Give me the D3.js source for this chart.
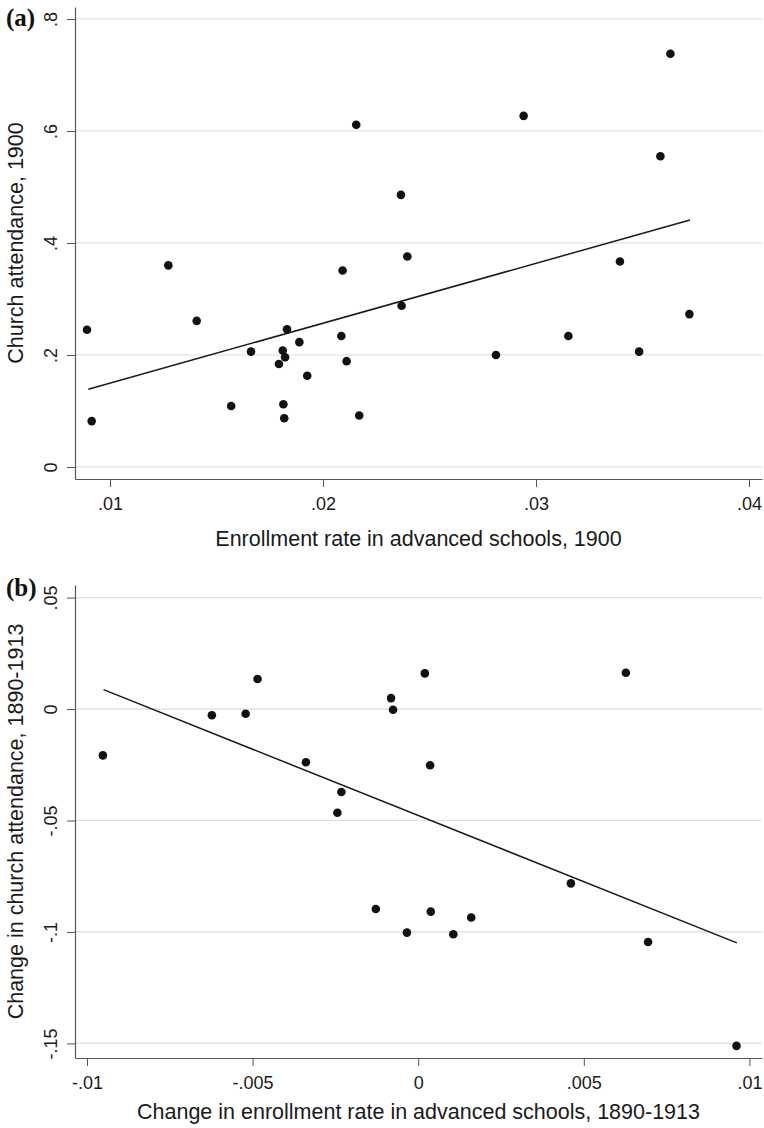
<!DOCTYPE html>
<html>
<head>
<meta charset="utf-8">
<script src="https://cdn.jsdelivr.net/npm/d3@7"></script>
<style>
  body { margin: 0; background: #fff; }
  svg { display: block; font-family: 'Liberation Sans', Arial, sans-serif; }
  .tick text { font-size: 18px; fill: #1a1a1a; }
  .axis path, .axis line { stroke: #555; }
</style>
</head>
<body>
<svg id="chart" width="764" height="1128"></svg>
<script>
// panel (a): enrollment in advanced schools vs church attendance, 1900
const enrollA = [0.00892, 0.00914, 0.01274, 0.01407, 0.01569, 0.01662, 0.01811, 0.01822, 0.01793, 0.01814,
  0.01818, 0.01831, 0.01889, 0.01926, 0.02092, 0.02086, 0.02111, 0.02170, 0.02156, 0.02366,
  0.02396, 0.02369, 0.02812, 0.02942, 0.03152, 0.03394, 0.03484, 0.03584, 0.03631, 0.03720];
const attendA = [0.245, 0.082, 0.360, 0.261, 0.109, 0.206, 0.208, 0.196, 0.184, 0.112,
  0.087, 0.246, 0.223, 0.163, 0.351, 0.234, 0.189, 0.092, 0.611, 0.486,
  0.376, 0.288, 0.200, 0.627, 0.234, 0.367, 0.206, 0.555, 0.738, 0.273];
const fitAx = [0.00898, 0.03723];
const fitAy = [0.1388, 0.4411];

// panel (b): changes 1890-1913
const enrollB = [-0.00952, -0.00623, -0.00521, -0.00485, -0.00339, -0.00232, -0.00244, -0.00082, -0.00076, 0.00020,
  0.00036, 0.00627, 0.00461, -0.00128, 0.00038, 0.00160, -0.00034, 0.00106, 0.00694, 0.00961];
const attendB = [-0.0208, -0.0028, -0.0021, 0.0135, -0.0239, -0.0372, -0.0465, 0.0049, -0.0003, 0.0160,
  -0.0252, 0.0163, -0.0782, -0.0897, -0.0909, -0.0935, -0.1003, -0.1010, -0.1045, -0.1511];
const fitBx = [-0.00950, 0.00962];
const fitBy = [0.0087, -0.1049];

const ticksAX = [0.01, 0.02, 0.03, 0.04];
const labelsAX = ['.01', '.02', '.03', '.04'];
const ticksAY = [0, 0.2, 0.4, 0.6, 0.8];
const labelsAY = ['0', '.2', '.4', '.6', '.8'];
const ticksBX = [-0.01, -0.005, 0, 0.005, 0.01];
const labelsBX = ['-.01', '-.005', '0', '.005', '.01'];
const ticksBY = [-0.15, -0.1, -0.05, 0, 0.05];
const labelsBY = ['-.15', '-.1', '-.05', '0', '.05'];

const svg = d3.select('#chart');
const left = 75, right = 762;

function drawPanel(p) {
  const x = d3.scaleLinear().domain(p.xDomain).range([left, right]);
  const y = d3.scaleLinear().domain(p.yDomain).range([p.bottom, p.top]);
  const g = svg.append('g');

  // grid
  g.selectAll('.grid')
    .data(p.yTicks)
    .join('line')
    .attr('x1', left).attr('x2', right)
    .attr('y1', d => y(d)).attr('y2', d => y(d))
    .attr('stroke', '#dedede')
    .attr('stroke-width', 1.2);

  const yAxis = g.append('g')
    .attr('class', 'axis')
    .attr('transform', `translate(${left},0)`)
    .call(d3.axisLeft(y).tickValues(p.yTicks).tickSize(8).tickSizeOuter(0)
      .tickFormat((d, i) => p.yLabels[i]));
  yAxis.selectAll('.tick text')
    .attr('transform', 'rotate(-90)')
    .attr('x', 0).attr('y', -18).attr('dy', 0)
    .attr('text-anchor', 'middle');

  g.append('g')
    .attr('class', 'axis')
    .attr('transform', `translate(0,${p.bottom})`)
    .call(d3.axisBottom(x).tickValues(p.xTicks).tickSize(8).tickSizeOuter(0).tickPadding(10)
      .tickFormat((d, i) => p.xLabels[i]));

  g.selectAll('.axis .domain').attr('stroke', '#555').attr('stroke-width', 1.2);

  // fitted line
  g.append('line')
    .attr('x1', x(p.fitX[0])).attr('y1', y(p.fitY[0]))
    .attr('x2', x(p.fitX[1])).attr('y2', y(p.fitY[1]))
    .attr('stroke', '#1a1a1a')
    .attr('stroke-width', 1.5);

  g.selectAll('circle')
    .data(p.xs.map((v, i) => [v, p.ys[i]]))
    .join('circle')
    .attr('cx', d => x(d[0]))
    .attr('cy', d => y(d[1]))
    .attr('r', 4.3)
    .attr('fill', '#111');

  // titles
  g.append('text')
    .attr('x', (left + right) / 2)
    .attr('y', p.xTitleY)
    .attr('text-anchor', 'middle')
    .attr('font-size', 21.5)
    .attr('fill', '#1a1a1a')
    .text(p.xTitle);

  g.append('text')
    .attr('transform', `translate(23,${(p.top + p.bottom) / 2}) rotate(-90)`)
    .attr('text-anchor', 'middle')
    .attr('font-size', 21.5)
    .attr('fill', '#1a1a1a')
    .text(p.yTitle);

  g.append('text')
    .attr('x', 6)
    .attr('y', p.labelY)
    .attr('font-family', "'Liberation Serif', 'Times New Roman', serif")
    .attr('font-weight', 'bold')
    .attr('font-size', 25)
    .attr('fill', '#111')
    .text(p.label);
}

drawPanel({
  xs: enrollA, ys: attendA, fitX: fitAx, fitY: fitAy,
  xDomain: [0.008357, 0.04061], yDomain: [-0.0214, 0.8214],
  top: 7, bottom: 479,
  xTicks: ticksAX, xLabels: labelsAX, yTicks: ticksAY, yLabels: labelsAY,
  xTitle: 'Enrollment rate in advanced schools, 1900',
  yTitle: 'Church attendance, 1900',
  xTitleY: 546, label: '(a)', labelY: 26
});

drawPanel({
  xs: enrollB, ys: attendB, fitX: fitBx, fitY: fitBy,
  xDomain: [-0.010362, 0.010380], yDomain: [-0.15655, 0.05565],
  top: 585, bottom: 1058,
  xTicks: ticksBX, xLabels: labelsBX, yTicks: ticksBY, yLabels: labelsBY,
  xTitle: 'Change in enrollment rate in advanced schools, 1890-1913',
  yTitle: 'Change in church attendance, 1890-1913',
  xTitleY: 1119, label: '(b)', labelY: 596
});
</script>
</body>
</html>
